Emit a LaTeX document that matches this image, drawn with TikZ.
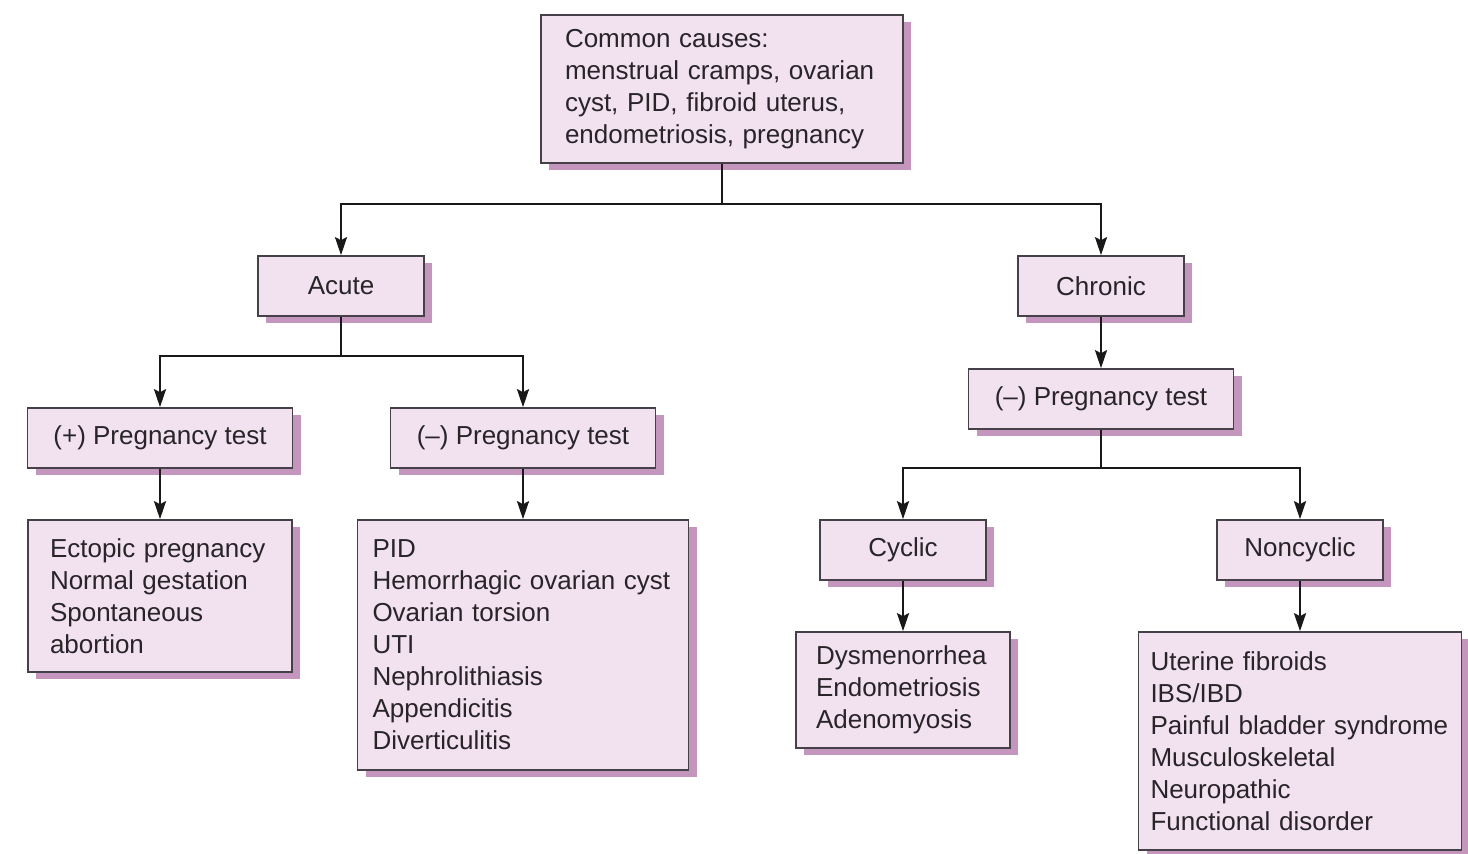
\documentclass[tikz,border=0pt]{standalone}
\usepackage{fontspec}
\setmainfont{Liberation Sans}
\usetikzlibrary{arrows.meta, shadows}
\definecolor{boxfill}{RGB}{242,226,240}
\definecolor{boxshade}{RGB}{196,150,190}
\definecolor{boxline}{RGB}{70,64,72}
\definecolor{ink}{RGB}{40,36,40}

\begin{document}
\begin{tikzpicture}[
  x=0.5pt, y=-0.5pt,
  box/.style={rectangle, draw=boxline, line width=0.8pt, fill=boxfill, text=ink,
              font=\fontsize{13}{16}\selectfont,
              drop shadow={shadow xshift=4pt, shadow yshift=-3.5pt, fill=boxshade, opacity=1}},
  small/.style={box, minimum width=83pt, minimum height=30pt},
  test/.style={box, minimum width=132.5pt, minimum height=30pt},
  arr/.style={-{Stealth[length=9pt, width=6pt, inset=1.5pt]}, line width=1.2pt, draw=black!90}
]
  \path[fill=white] (0,0) rectangle (1468,854);
  \useasboundingbox (0,0) rectangle (1468,854);

  % Common causes
  \node[box, align=left, text width=157pt, inner xsep=12pt, minimum height=74pt] (causes)
    at (722,89) {Common causes:\\menstrual cramps, ovarian\\cyst, PID, fibroid uterus,\\endometriosis, pregnancy};

  % Acute / Chronic
  \node[small] (acute) at (341,286) {Acute};
  \node[small] (chronic) at (1101,286) {Chronic};

  % Pregnancy tests
  \node[test] (postest) at (160,438) {(+) Pregnancy test};
  \node[test] (negtest) at (523,438) {(--) Pregnancy test};
  \node[test] (chrontest) at (1101,399) {(--) Pregnancy test};

  % Cyclic / Noncyclic
  \node[small] (cyclic) at (903,550) {Cyclic};
  \node[small] (noncyclic) at (1300,550) {Noncyclic};

  % Lists of diagnoses
  \node[box, align=left, text width=110pt, inner xsep=11pt, minimum height=76pt] (poslist)
    at (160,596) {Ectopic pregnancy\\Normal gestation\\Spontaneous\\abortion};
  \node[box, align=left, text width=150.5pt, inner xsep=7.5pt, minimum height=125pt] (neglist)
    at (523,645) {PID\\Hemorrhagic ovarian cyst\\Ovarian torsion\\UTI\\Nephrolithiasis\\Appendicitis\\Diverticulitis};
  \node[box, align=left, text width=87pt, inner xsep=10pt, minimum height=58pt] (cyclist)
    at (903,690) {Dysmenorrhea\\Endometriosis\\Adenomyosis};
  \node[box, align=left, text width=149.5pt, inner xsep=6pt, minimum height=109pt] (noncyclist)
    at (1300,741) {Uterine fibroids\\IBS/IBD\\Painful bladder syndrome\\Musculoskeletal\\Neuropathic\\Functional disorder};

  % Arrows
  \draw[arr] (causes.south) -- ++(0,40) -| (acute.north);
  \draw[arr] (causes.south) -- ++(0,40) -| (chronic.north);
  \draw[arr] (acute.south) -- ++(0,39) -| (postest.north);
  \draw[arr] (acute.south) -- ++(0,39) -| (negtest.north);
  \draw[arr] (postest.south) -- (poslist.north);
  \draw[arr] (negtest.south) -- (neglist.north);
  \draw[arr] (chronic.south) -- (chrontest.north);
  \draw[arr] (chrontest.south) -- ++(0,38) -| (cyclic.north);
  \draw[arr] (chrontest.south) -- ++(0,38) -| (noncyclic.north);
  \draw[arr] (cyclic.south) -- (cyclist.north);
  \draw[arr] (noncyclic.south) -- (noncyclist.north);
\end{tikzpicture}
\end{document}
